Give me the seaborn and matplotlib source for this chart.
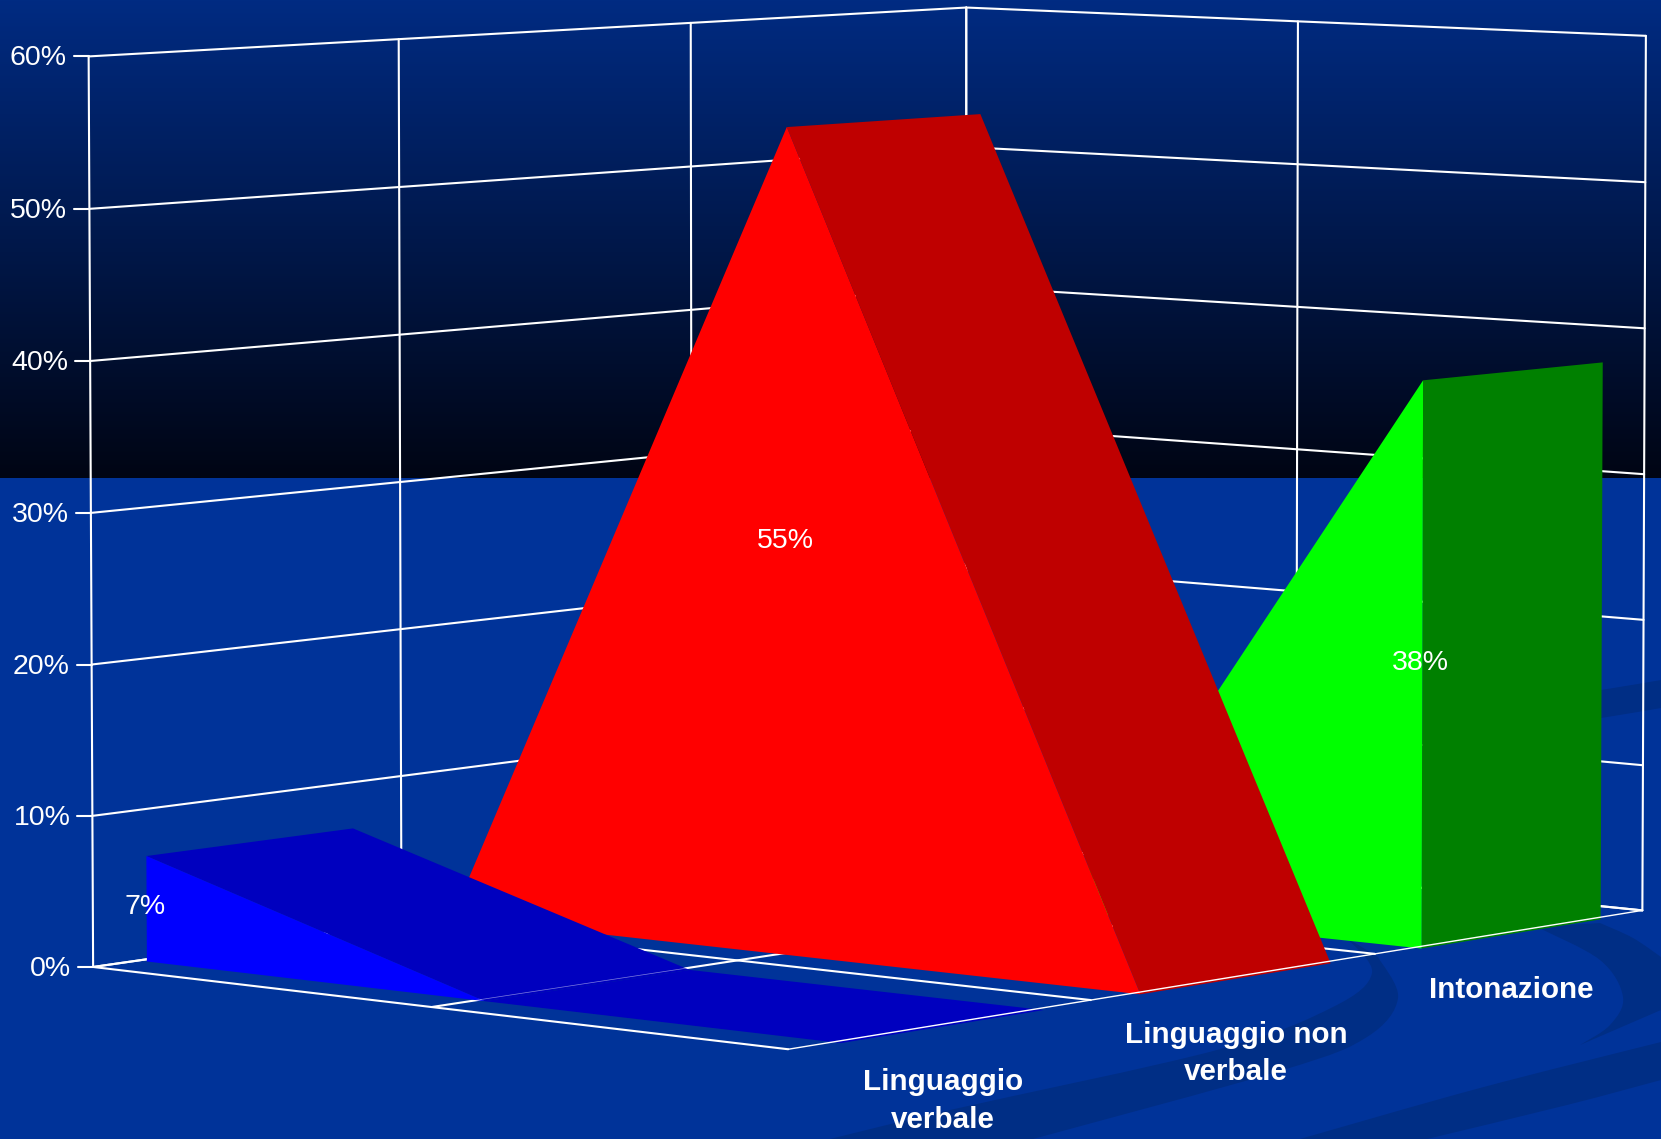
import matplotlib
matplotlib.use('Agg')
import matplotlib.pyplot as plt
from matplotlib.patches import PathPatch
from matplotlib.path import Path
import numpy as np
import pandas as pd
import seaborn as sns

series_names = ['Linguaggio\nverbale', 'Linguaggio non\nverbale', 'Intonazione']
verbal_values = [7, 0, 0]
nonverbal_values = [0, 55, 0]
tone_values = [0, 0, 38]
y_ticks = [0, 10, 20, 30, 40, 50, 60]

front_colors = ['#0000ff', '#ff0000', '#00ff00']
side_colors = ['#0000bf', '#bf0000', '#008000']
BACKGROUND = '#003399'
SWOOSH = '#002e85'

WIDTH, HEIGHT = 1661, 1139
GRADIENT_END = 478
GAP_FRONT, GAP_BACK = 0.17, 0.16
FLOOR_LIFT = 0.15

# camera fit: (series, category, value) on the box -> pixel in the picture
box_points = [(0, 0, 60), (1, 0, 60), (2, 0, 60), (3, 0, 60), (3, 1, 60), (3, 2, 60),
              (0, 0, 50), (0, 0, 40), (0, 0, 30), (0, 0, 10), (0, 0, 0),
              (3, 2, 50), (3, 2, 40), (3, 2, 30), (3, 2, 10), (3, 2, 0),
              (0, 1, 0), (0, 2, 0), (1, 2, 0), (2, 2, 0), (3, 0, 0)]
box_pixels = [(89, 55), (398, 39), (690, 23.7), (966.6, 8), (1299, 22), (1646, 35),
              (89.5, 208.7), (90.5, 362), (91, 513), (92, 816), (92.6, 968),
              (1645, 182), (1644, 329), (1644, 473), (1643, 765.7), (1643, 912.7),
              (433, 1008), (788, 1048), (1090, 999), (1375, 954), (966, 839)]

# background bands, bottom right corner: each one is a list of smooth edges
swoosh_shapes = [
    [[(1661, 1042), (1480, 1088), (1300, 1139)],
     [(1427, 1139), (1567, 1105), (1661, 1080)]],
    [[(1661, 680), (1601, 690), (1500, 705)],
     [(1500, 733), (1601, 718), (1661, 708)]],
    [[(1537, 927), (1600, 960), (1623, 997), (1610, 1025), (1580, 1045)],
     [(1580, 1045), (1661, 1010)],
     [(1661, 957), (1633, 938), (1600, 923)]],
    [[(1347, 938), (1372, 973), (1333, 1007), (1217, 1050), (950, 1110), (830, 1139)],
     [(1033, 1139), (1283, 1070), (1367, 1037), (1398, 998), (1378, 957)]],
]


def fit_camera(points, pixels):
    rows = []
    for (u, v, z), (px, py) in zip(points, pixels):
        p = [u / 3, v / 2, z / 60, 1]
        px, py = px / 1000, py / 1000
        rows.append(p + [0, 0, 0, 0] + [-px * c for c in p])
        rows.append([0, 0, 0, 0] + p + [-py * c for c in p])
    return np.linalg.svd(np.array(rows))[2][-1].reshape(3, 4)


camera = fit_camera(box_points, box_pixels)


def project(u, v, z):
    """Series position, category position and value to picture pixels."""
    x, y, w = camera @ np.array([u / 3, v / 2, z / 60, 1])
    return x / w * 1000, y / w * 1000


def project_mark(u, v, z):
    # the areas sit a little under the floor lines in the original
    return project(u, v, z - FLOOR_LIFT * (1 - z / 55))


def grid_frame():
    rows = []

    def add(start, end):
        seg = len(rows)
        for point in (start, end):
            x, y = project(*point)
            rows.append({'x': x, 'y': y, 'seg': seg})

    for z in y_ticks:
        add((0, 0, z), (3, 0, z))
        add((3, 0, z), (3, 2, z))
    for u in range(4):
        add((u, 0, 0), (u, 0, 60))
        add((u, 0, 0), (u, 2, 0))
    for v in range(3):
        add((3, v, 0), (3, v, 60))
        if v < 2:
            add((0, v, 0), (3, v, 0))
    return pd.DataFrame(rows)


def draw_swoosh(ax, edges):
    verts, codes = [], []
    for edge in edges:
        pts = [np.array(p, dtype=float) for p in edge]
        verts.append(pts[0])
        codes.append(Path.LINETO if verts[:-1] else Path.MOVETO)
        # catmull-rom through the points
        for i in range(len(pts) - 1):
            before = pts[max(i - 1, 0)]
            after = pts[min(i + 2, len(pts) - 1)]
            verts += [pts[i] + (pts[i + 1] - before) / 6,
                      pts[i + 1] - (after - pts[i]) / 6, pts[i + 1]]
            codes += [Path.CURVE4] * 3
    verts.append(verts[0])
    codes.append(Path.CLOSEPOLY)
    ax.add_patch(PathPatch(Path(verts, codes), fc=SWOOSH, ec='none', zorder=1))


def draw_area(ax, u, values, front, side, zorder):
    low, high = u + GAP_FRONT, u + 1 - GAP_BACK
    last = len(values) - 1
    for v in range(last):
        if values[v + 1] <= values[v]:
            quad = [project_mark(low, v, values[v]), project_mark(high, v, values[v]),
                    project_mark(high, v + 1, values[v + 1]), project_mark(low, v + 1, values[v + 1])]
            ax.fill(*zip(*quad), color=side, lw=0, zorder=zorder)
    if values[last] > 0:
        cap = [project_mark(low, last, 0), project_mark(high, last, 0),
               project_mark(high, last, values[last]), project_mark(low, last, values[last])]
        ax.fill(*zip(*cap), color=side, lw=0, zorder=zorder)
    face = [project_mark(low, v, values[v]) for v in range(last + 1)]
    face += [project_mark(low, last, 0), project_mark(low, 0, 0)]
    ax.fill(*zip(*face), color=front, lw=0, zorder=zorder + 0.1)


sns.set_theme(style='white', rc={'axes.facecolor': BACKGROUND, 'figure.facecolor': BACKGROUND})
plt.rcParams['font.family'] = ['Liberation Sans', 'DejaVu Sans']

fig = plt.figure(figsize=(WIDTH / 100, HEIGHT / 100), dpi=100)
ax = fig.add_axes([0, 0, 1, 1])

sky = sns.blend_palette(['#002b82', '#000514'], as_cmap=True)
ax.imshow(np.linspace(0, 1, 256).reshape(-1, 1), cmap=sky, aspect='auto',
          extent=(0, WIDTH, GRADIENT_END, 0), zorder=0)
for shape in swoosh_shapes:
    draw_swoosh(ax, shape)

sns.lineplot(data=grid_frame(), x='x', y='y', units='seg', estimator=None, sort=False,
             color='white', lw=1.5, ax=ax, zorder=2, legend=False)

all_values = [verbal_values, nonverbal_values, tone_values]
for i in (2, 1, 0):
    draw_area(ax, i, all_values[i], front_colors[i], side_colors[i], 3 + (2 - i))

# thin front edge and the faint floor line seen through the blue slope
for start, end, lw, alpha in [((0, 2, 0), (3, 2, 0), 1.0, 1), ((0, 1, 0), (1, 1, 0), 0.5, 0.5)]:
    xs, ys = zip(project(*start), project(*end))
    ax.plot(xs, ys, color='white', lw=lw, alpha=alpha, zorder=7)

for z in y_ticks:
    x, y = project(0, 0, z)
    ax.plot([x - 15, x], [y, y], color='white', lw=1.5, zorder=2)
    ax.text(x - 22, y - 1, '{}%'.format(z), color='white', fontsize=20.5, ha='right', va='center_baseline')

for i, values in enumerate(all_values):
    v = int(np.argmax(values))
    x, y = project(i + GAP_FRONT, v, values[v] / 2)
    ax.text(x - 2, y - 3, '{}%'.format(values[v]), color='white', fontsize=20.5, ha='center',
            va='center_baseline', zorder=8)
    x, y = project(i + 0.5, 2, 0)
    ax.text(x + 1, y + 44, series_names[i], color='white', fontsize=21.3, fontweight='bold',
            ha='center', va='top', linespacing=1.44, zorder=8)

ax.set_xlim(0, WIDTH)
ax.set_ylim(HEIGHT, 0)
ax.axis('off')

fig.savefig('out.png', dpi=100, facecolor=BACKGROUND)
